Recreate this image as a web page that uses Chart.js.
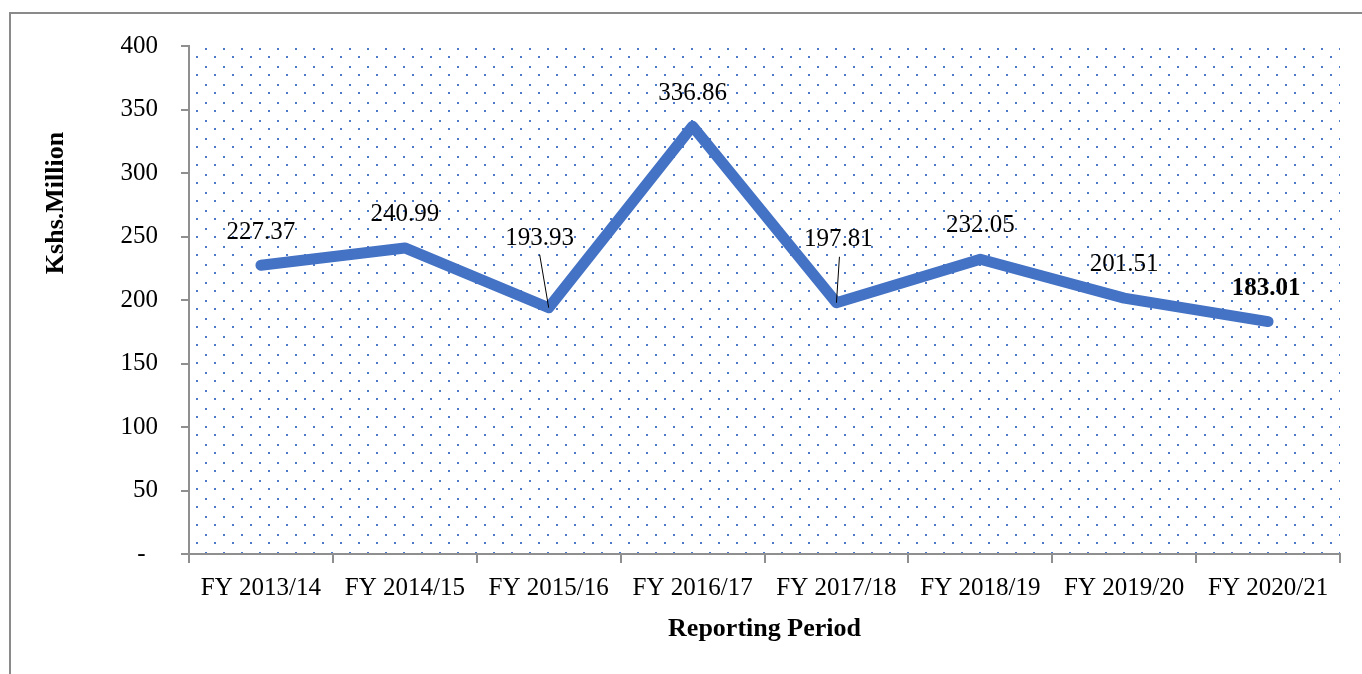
<!DOCTYPE html>
<html>
<head>
<meta charset="utf-8">
<title>Kshs Million by reporting period</title>
<script src="https://cdn.jsdelivr.net/npm/chart.js@4.4.1/dist/chart.umd.min.js"></script>
<style>
  body { margin: 0; background: #fff; }
  canvas { display: block; }
</style>
</head>
<body>
<canvas id="myChart" width="1362" height="674"></canvas>
<script>
// data
const periods = ["FY 2013/14", "FY 2014/15", "FY 2015/16", "FY 2016/17",
                 "FY 2017/18", "FY 2018/19", "FY 2019/20", "FY 2020/21"];
const amounts = [227.37, 240.99, 193.93, 336.86, 197.81, 232.05, 201.51, 183.01];
const yTickLabels = ["-  ", "50", "100", "150", "200", "250", "300", "350", "400"];

const serif = "'Liberation Serif', 'Times New Roman', serif";
const blue = "#4472C4";
const axisGrey = "#8f8f8f";

function dotPattern(ctx) {
  const tile = document.createElement("canvas");
  tile.width = 18;
  tile.height = 18;
  const t = tile.getContext("2d");
  t.fillStyle = "rgba(68,114,196,0.95)";
  t.fillRect(7, 12, 2, 2);
  t.fillRect(16, 2, 2, 2);
  return ctx.createPattern(tile, "repeat");
}

// white page, thin frame and dotted plot area
const backdrop = {
  id: "backdrop",
  beforeDraw(chart) {
    const { ctx, chartArea: a, width, height } = chart;
    ctx.save();
    ctx.fillStyle = "#fff";
    ctx.fillRect(0, 0, width, height);
    ctx.strokeStyle = "#8a8a8a";
    ctx.lineWidth = 2;
    ctx.beginPath();
    ctx.moveTo(10, height);
    ctx.lineTo(10, 13);
    ctx.lineTo(width, 13);
    ctx.stroke();
    ctx.fillStyle = dotPattern(ctx);
    ctx.fillRect(a.left + 2, a.top, a.right - a.left - 2, a.bottom - a.top - 1);
    ctx.restore();
  }
};

// value labels above the points, with leader lines where Excel moved them
const pointLabels = {
  id: "pointLabels",
  afterDatasetsDraw(chart, args, opts) {
    const { ctx } = chart;
    const pts = chart.getDatasetMeta(0).data;
    ctx.save();
    pts.forEach((p, i) => {
      const off = opts.offsets[i];
      const lx = p.x + off[0], ly = p.y + off[1];
      const lead = opts.leaders[i];
      if (lead) {
        ctx.strokeStyle = "#000";
        ctx.lineWidth = 1;
        ctx.beginPath();
        ctx.moveTo(p.x + lead[0], p.y + lead[1]);
        ctx.lineTo(p.x, p.y);
        ctx.stroke();
      }
      ctx.font = (opts.bold[i] ? "bold " : "") + "25px " + serif;
      ctx.fillStyle = "#000";
      ctx.textAlign = "center";
      ctx.textBaseline = "middle";
      ctx.fillText(amounts[i].toFixed(2), lx, ly);
    });
    ctx.restore();
  }
};

// y axis title sits above the middle of the axis
const yTitle = {
  id: "yTitle",
  afterDraw(chart, args, opts) {
    const { ctx } = chart;
    ctx.save();
    ctx.translate(opts.x, opts.y);
    ctx.rotate(-Math.PI / 2);
    ctx.font = "bold 26px " + serif;
    ctx.fillStyle = "#000";
    ctx.textAlign = "center";
    ctx.textBaseline = "alphabetic";
    ctx.fillText(opts.text, 0, 0);
    ctx.restore();
  }
};

const chartCtx = document.getElementById("myChart").getContext("2d");

new Chart(chartCtx, {
  type: "line",
  data: {
    labels: periods,
    datasets: [{
      label: "Kshs.Million",
      data: amounts,
      borderColor: blue,
      borderWidth: 11,
      borderCapStyle: "round",
      borderJoinStyle: "round",
      pointRadius: 0,
      tension: 0,
      fill: false
    }]
  },
  options: {
    responsive: false,
    animation: false,
    layout: { padding: { left: 0, right: 22, top: 46, bottom: 0 } },
    plugins: {
      legend: { display: false },
      tooltip: { enabled: false },
      pointLabels: {
        offsets: [[0, -33], [0, -34], [-9, -69], [0, -33], [2, -63], [0, -34], [0, -34], [-2, -33]],
        leaders: [null, null, [-9, -53], null, [3, -46], null, null, null],
        bold: [false, false, false, false, false, false, false, true]
      },
      yTitle: { text: "Kshs.Million", x: 63, y: 203 }
    },
    scales: {
      x: {
        offset: true,
        grid: { offset: true, drawOnChartArea: false, drawTicks: true, tickLength: 9, color: axisGrey, lineWidth: 2 },
        border: { color: axisGrey, width: 2 },
        ticks: {
          autoSkip: false, maxRotation: 0, padding: 10, color: "#000",
          font: { family: serif, size: 25 }
        },
        title: {
          display: true, text: "Reporting Period", color: "#000",
          font: { family: serif, size: 26, weight: "bold" },
          padding: { top: 0, bottom: 29 }
        },
        afterFit(scale) { scale.height = 120; }
      },
      y: {
        min: 0,
        max: 400,
        grid: { drawOnChartArea: false, drawTicks: true, tickLength: 8, color: axisGrey, lineWidth: 2 },
        border: { color: axisGrey, width: 2 },
        ticks: {
          stepSize: 50, padding: 23, color: "#000",
          font: { family: serif, size: 25 },
          callback: (value, index) => yTickLabels[index]
        },
        afterFit(scale) { scale.width = 189; }
      }
    }
  },
  plugins: [backdrop, pointLabels, yTitle]
});
</script>
</body>
</html>
